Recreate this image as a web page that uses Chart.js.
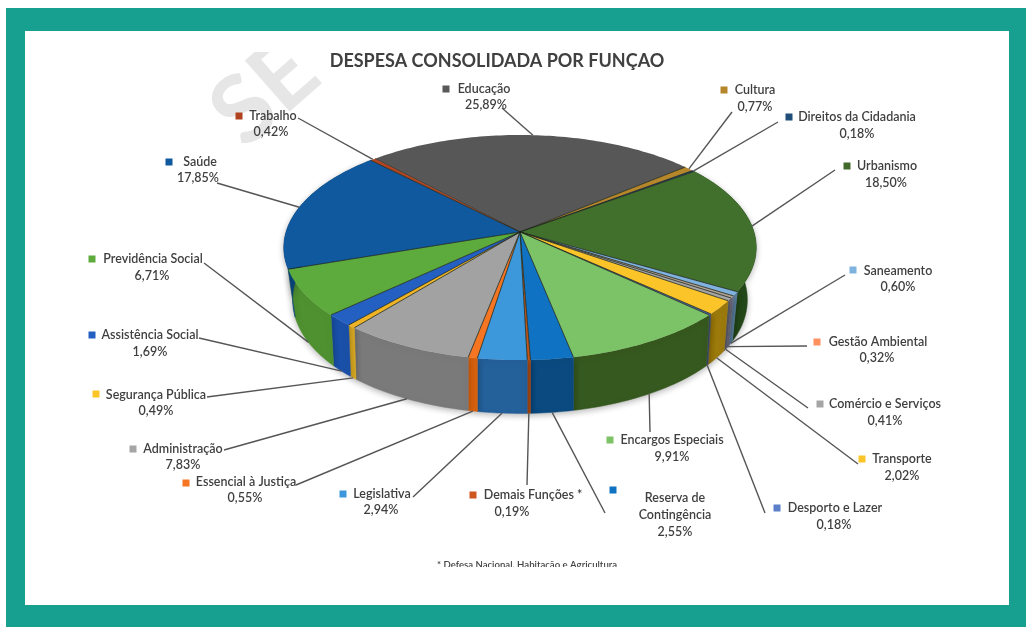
<!DOCTYPE html>
<html lang="pt"><head><meta charset="utf-8">
<title>Despesa consolidada por função</title>
<style>html,body{margin:0;padding:0;background:#fff}canvas{display:block;filter:blur(.55px)}</style>
<script src="https://cdn.jsdelivr.net/npm/chart.js@4"></script>
</head><body>
<canvas id="c" width="1026" height="627"></canvas>
<script>
const chartTitle = 'DESPESA CONSOLIDADA POR FUNÇAO';
const footnote = '* Defesa Nacional, Habitação e Agricultura';
const categories = ['Educação','Cultura','Direitos da Cidadania','Urbanismo','Saneamento','Gestão Ambiental','Comércio e Serviços','Transporte','Desporto e Lazer','Encargos Especiais','Reserva de\nContingência','Demais Funções *','Legislativa','Essencial à Justiça','Administração','Segurança Pública','Assistência Social','Previdência Social','Saúde','Trabalho'];
const shares = [25.89,0.77,0.18,18.50,0.60,0.32,0.41,2.02,0.18,9.91,2.55,0.19,2.94,0.55,7.83,0.49,1.69,6.71,17.85,0.42];
const shareLabels = ['25,89%','0,77%','0,18%','18,50%','0,60%','0,32%','0,41%','2,02%','0,18%','9,91%','2,55%','0,19%','2,94%','0,55%','7,83%','0,49%','1,69%','6,71%','17,85%','0,42%'];
const topColors = ['#575757','#b5862a','#264478','#41702d','#7fb2de','#b0a090','#a5a5a5','#fbc52a','#4a6cb0','#7cc266','#0f72c2','#c0561a','#3c98da','#f57522','#a2a2a2','#eeb425','#2460c2','#5cab3c','#10599f','#b0431f'];
const sideColors = ['#3f3f3f','#8a6420','#1a3058','#24481a','#5a7f9f','#6f6f80','#5f6070','#9c7a0c','#3f4f78','#36591f','#0b4a80','#a84a14','#24609a','#d9620f','#7a7a7a','#dcab22','#1a50a8','#4f9130','#0c4478','#8a3318'];
const keyColors = ['#595959','#b5862a','#1f4e79','#43682b','#7fb2de','#ff9060','#a5a5a5','#fbc52a','#5b7fc9','#7cc266','#0f72c2','#d0561f','#3c98da','#f57522','#a5a5a5','#fbc52a','#2460c2','#5cab3c','#10599f','#b0431f'];
// [key x, key y, name centre x, name y, share centre x, share y, leader end x, leader end y]
const labelLayout = [
[446,89,484,89,486,105,502,108],[724,90,755,90,755,107,732,112],[789,117,857,117,857,134,778,122],[847,166,887,166,886,183,835,170],
[853,270,898,271,898,287,845,275],[817,342,878,342,877,358,807,346],[820,404,885,404,885,421,808,408],[862,459,902,459,902,476,858,464],
[777,508,835,508,834,525,765,513],[610,440,672,440,672,457,650,432],[613,490,675,498,675,532,605,513],[473,495,533,495,512,512,527,485],
[343,494,382,494,381,510,413,497],[186,483,246,482,245,498,296,485],[133,449,183,449,183,465,224,450],[96,394,156,395,156,411,207,397],
[92,335,150,335,150,352,199,338],[92,259,153,259,152,276,204,263],[169,162,200,162,198,178,217,183],[239,116,273,116,271,132,298,118]];
// geometry of the tilted disc
const disc = {x:520,y:232,a:234,b:110.4,p:0.138,depth:46,taper:0.045};
const proj = (ang,r=1)=>{const u=Math.cos(ang),v=Math.sin(ang),w=1-disc.p*v*r;return {x:disc.x+disc.a*r*u/w,y:disc.y+disc.b*r*v/w,w,v};};
const wallFoot = q => ({x:disc.x+(q.x-disc.x)*(1-disc.taper*(1-q.v)),y:q.y+disc.depth/q.w});
const UI = '"Lato","Open Sans",sans-serif';

function sampleAngles(s,e){const n=Math.max(2,Math.ceil((e-s)/0.02));const o=[];for(let i=0;i<=n;i++)o.push(s+(e-s)*i/n);return o;}

const tiltedPie = {
  id:'tiltedPie',
  beforeDraw(chart){
    const c=chart.ctx;c.save();
    c.fillStyle='#fff';c.fillRect(0,0,1026,627);
    c.fillStyle='#17a08f';c.fillRect(6,8,1020,619);
    c.fillStyle='#fff';c.fillRect(25,31,984,574);
    // watermark
    c.save();c.beginPath();c.rect(180,52,150,100);c.clip();
    c.translate(265,93);c.rotate(-0.72);c.fillStyle='#e6e6e6';c.font='bold 94px '+UI;c.textAlign='center';c.textBaseline='middle';c.fillText('SE',0,0);c.restore();
    c.restore();
  },
  beforeDatasetDraw(chart,args){
    const c=chart.ctx,arcs=chart.getDatasetMeta(args.index).data;
    c.save();
    // outer walls
    c.save();c.shadowColor='rgba(0,0,0,.28)';c.shadowBlur=6;c.shadowOffsetY=2;
    arcs.forEach((el,i)=>{
      const pts=sampleAngles(el.startAngle,el.endAngle).map(a=>proj(a));
      if(pts.every(q=>q.v<-0.15))return;
      c.beginPath();
      pts.forEach((q,k)=>k?c.lineTo(q.x,q.y):c.moveTo(q.x,q.y));
      pts.slice().reverse().forEach(q=>{const f=wallFoot(q);c.lineTo(f.x,f.y);});
      c.closePath();c.fillStyle=sideColors[i];c.strokeStyle=sideColors[i];c.lineWidth=.5;c.fill();c.stroke();
    });
    c.restore();
    // top faces
    arcs.forEach((el,i)=>{
      const pts=sampleAngles(el.startAngle,el.endAngle).map(a=>proj(a));
      c.beginPath();c.moveTo(disc.x,disc.y);
      pts.forEach(q=>c.lineTo(q.x,q.y));c.closePath();
      c.fillStyle=el.options.backgroundColor;c.fill();
      c.strokeStyle='rgba(25,35,25,.8)';c.lineWidth=1;
      c.beginPath();c.moveTo(disc.x,disc.y);c.lineTo(pts[0].x,pts[0].y);c.stroke();
    });
    c.restore();
    return false;
  },
  afterDatasetsDraw(chart){
    const c=chart.ctx,arcs=chart.getDatasetMeta(0).data;
    c.save();
    // leader lines
    c.strokeStyle='#555';c.lineWidth=1.4;
    arcs.forEach((el,i)=>{
      const q=proj((el.startAngle+el.endAngle)/2),L=labelLayout[i];
      const s=q.v>0?wallFoot(q):q;
      c.beginPath();c.moveTo(s.x,s.y);c.lineTo(L[6],L[7]);c.stroke();
    });
    // labels
    c.textAlign='center';c.textBaseline='middle';
    categories.forEach((name,i)=>{
      const L=labelLayout[i];
      c.fillStyle=keyColors[i];c.fillRect(L[0]-3.5,L[1]-3.5,7,7);
      c.fillStyle='#3f3f3f';c.font='600 12.5px '+UI;
      name.split('\n').forEach((t,k)=>c.fillText(t,L[2],L[3]+k*17));
      c.fillText(shareLabels[i],L[4],L[5]);
    });
    // footnote, cut at the bottom as in the source image
    c.save();c.beginPath();c.rect(420,555,220,12);c.clip();
    c.font='600 9.6px '+UI;c.fillStyle='#444';c.fillText(footnote,527,565);c.restore();
    c.restore();
  }
};

new Chart(document.getElementById('c'),{
  type:'pie',
  data:{labels:categories,datasets:[{data:shares,backgroundColor:topColors,borderWidth:0}]},
  options:{
    responsive:false,animation:false,rotation:-43,
    layout:{padding:{top:0,left:0,right:32,bottom:0}},
    plugins:{
      legend:{display:false},tooltip:{enabled:false},
      title:{display:true,text:chartTitle,color:'#404040',font:{family:UI,size:18,weight:'bold'},padding:{top:50,bottom:0}}
    }
  },
  plugins:[tiltedPie]
});
</script>
</body></html>
